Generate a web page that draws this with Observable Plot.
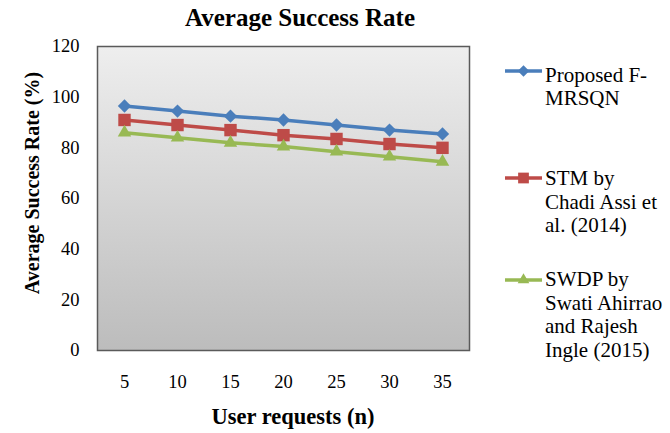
<!DOCTYPE html>
<html><head><meta charset="utf-8">
<script src="https://cdn.jsdelivr.net/npm/d3@7"></script>
<script src="https://cdn.jsdelivr.net/npm/@observablehq/plot@0.6"></script>
<style>
body{margin:0;background:#fff;}
#wrap{position:relative;width:670px;height:433px;font-family:"Liberation Serif","Times New Roman",serif;color:#000;}
#title{position:absolute;left:100px;width:400px;top:0px;text-align:center;font-weight:bold;font-size:25px;line-height:36px;}
#ylab{position:absolute;left:32px;top:183px;transform:translate(-50%,-50%) rotate(-90deg);white-space:nowrap;font-weight:bold;font-size:20px;}
#xlab{position:absolute;left:143px;width:300px;top:402px;text-align:center;font-weight:bold;font-size:22.5px;line-height:30px;}
.ltxt{position:absolute;left:545px;white-space:nowrap;font-size:21px;line-height:23.5px;}
#legsvg{position:absolute;left:0;top:0;}
svg g[aria-label="frame"]{filter:drop-shadow(2px 2px 2px rgba(0,0,0,0.45));}
</style></head>
<body><div id="wrap">
<div id="title">Average Success Rate</div>
<div id="ylab">Average Success Rate (%)</div>
<div id="xlab">User requests (n)</div>
</div>
<script>
const requests = [5, 10, 15, 20, 25, 30, 35];
const proposed = [96.5, 94.5, 92.5, 91, 89, 87, 85.5];
const stm = [91, 89, 87, 85, 83.5, 81.5, 80];
const swdp = [86, 84, 82, 80.5, 78.5, 76.5, 74.5];
const seriesNames = ["Proposed F-MRSQN", "STM by Chadi Assi et al. (2014)", "SWDP by Swati Ahirrao and Rajesh Ingle (2015)"];
const legendLines = [["Proposed F-", "MRSQN"], ["STM by", "Chadi Assi et", "al. (2014)"], ["SWDP by", "Swati Ahirrao", "and Rajesh", "Ingle (2015)"]];
const yTicks = [0, 20, 40, 60, 80, 100, 120];

const colors = ["#4a7ebb", "#be4b48", "#98b954"];
const symbols = ["diamond2", "square", "triangle"];
const radii = [6, 7, 5];
const seriesVals = [proposed, stm, swdp];
const data = [];
seriesVals.forEach((vals, s) => vals.forEach((v, i) => data.push({series: seriesNames[s], x: requests[i], y: v})));

const defs = () => {
  const d = d3.create("svg:defs");
  const g = d.append("linearGradient").attr("id", "bggrad").attr("x1", 0).attr("y1", 0).attr("x2", 0).attr("y2", 1);
  g.append("stop").attr("offset", "0%").attr("stop-color", "#eeeeee");
  g.append("stop").attr("offset", "100%").attr("stop-color", "#bcbcbc");
  return d.node();
};

const marks = [defs, Plot.frame({fill: "url(#bggrad)", stroke: "#5a5a5a", strokeWidth: 1.5})];
seriesNames.forEach((name, s) => {
  const sub = data.filter(d => d.series === name);
  marks.push(Plot.line(sub, {x: "x", y: "y", stroke: colors[s], strokeWidth: 3.5}));
  marks.push(Plot.dot(sub, {x: "x", y: "y", fill: colors[s], stroke: "none", symbol: symbols[s], r: radii[s]}));
});

const chart = Plot.plot({
  width: 670, height: 433,
  marginLeft: 97, marginRight: 201, marginTop: 46, marginBottom: 83,
  style: {fontFamily: "'Liberation Serif','Times New Roman',serif", fontSize: "18.5px", color: "#000", background: "transparent"},
  x: {type: "point", domain: requests, padding: 0.5, tickSize: 0, tickPadding: 24, label: null},
  y: {domain: [0, 120], ticks: yTicks, tickSize: 0, tickPadding: 18, label: null},
  marks
});
chart.style.position = "absolute";
chart.style.left = "0"; chart.style.top = "0";
const wrap = document.getElementById("wrap");
wrap.prepend(chart);

// legend
const lineY = [71, 178, 280];
const textTop = [63.5, 167, 268];
const shapes = [d3.symbolDiamond2, d3.symbolSquare, d3.symbolTriangle];
const legSvg = d3.create("svg").attr("id", "legsvg").attr("width", 670).attr("height", 433);
legendLines.forEach((lines, s) => {
  legSvg.append("line").attr("x1", 505).attr("x2", 542).attr("y1", lineY[s]).attr("y2", lineY[s])
    .attr("stroke", colors[s]).attr("stroke-width", 3.5);
  legSvg.append("path").attr("transform", `translate(523.5,${lineY[s]})`)
    .attr("d", d3.symbol(shapes[s], Math.PI * radii[s] * radii[s] * 0.75)()).attr("fill", colors[s]);
  const txt = document.createElement("div");
  txt.className = "ltxt";
  txt.style.top = textTop[s] + "px";
  txt.innerHTML = lines.join("<br>");
  wrap.appendChild(txt);
});
wrap.appendChild(legSvg.node());
</script>
</body></html>
